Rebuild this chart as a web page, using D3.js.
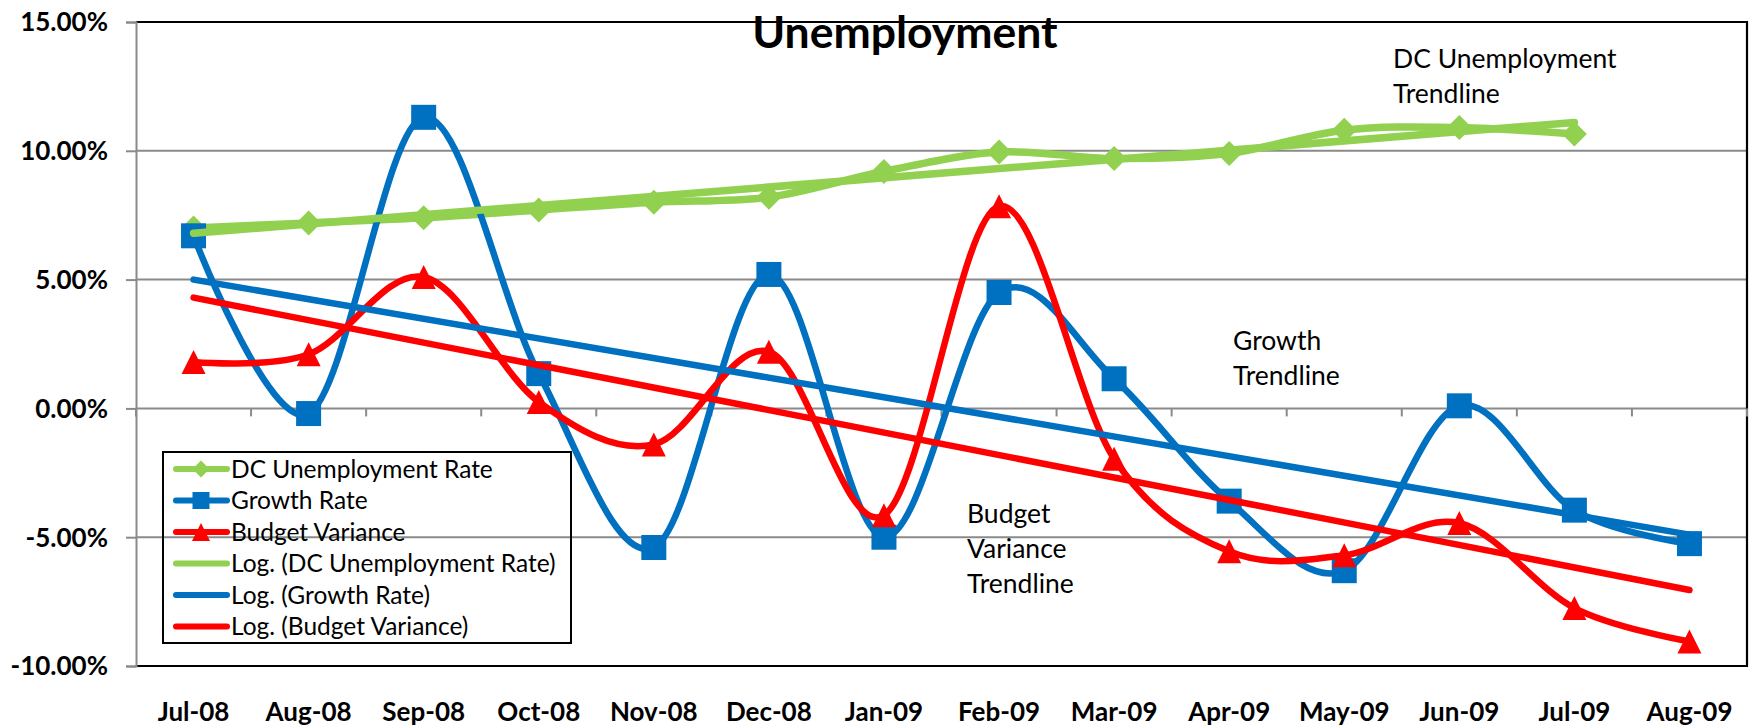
<!DOCTYPE html>
<html>
<head>
<meta charset="utf-8">
<script src="https://cdn.jsdelivr.net/npm/d3@7.9.0/dist/d3.min.js"></script>
<style>
  html, body { margin: 0; padding: 0; background: #fff; }
  svg { display: block; font-family: Lato, 'Open Sans', sans-serif; }
</style>
</head>
<body>
<svg id="chart"></svg>
<script>
// values (percent)
const months = ['Jul-08', 'Aug-08', 'Sep-08', 'Oct-08', 'Nov-08', 'Dec-08', 'Jan-09',
  'Feb-09', 'Mar-09', 'Apr-09', 'May-09', 'Jun-09', 'Jul-09', 'Aug-09'];
const dcRate = [7.0, 7.2, 7.4, 7.7, 8.0, 8.2, 9.2, 9.95, 9.7, 9.9, 10.8, 10.9, 10.65, null];
const growthRate = [6.7, -0.2, 11.3, 1.35, -5.4, 5.2, -5.0, 4.5, 1.15, -3.6, -6.3, 0.1, -3.95, -5.25];
const budgetVariance = [1.8, 2.1, 5.1, 0.25, -1.4, 2.2, -4.15, 7.85, -1.95, -5.55, -5.7, -4.45, -7.75, -9.05];

// log trendlines, endpoints as drawn
const dcTrend = [['Jul-08', 6.8], ['Jul-09', 11.1]];
const growthTrend = [['Jul-08', 5.0], ['Aug-09', -4.9]];
const budgetTrend = [['Jul-08', 4.3], ['Aug-09', -7.05]];

const yTicks = [-10, -5, 0, 5, 10, 15];
const annotations = [
  { lines: ['DC Unemployment', 'Trendline'], x: 1393, y: 68 },
  { lines: ['Growth', 'Trendline'], x: 1233, y: 350 },
  { lines: ['Budget', 'Variance', 'Trendline'], x: 967, y: 523 },
];

const width = 1750;
const height = 727;
const plot = { left: 136, right: 1747, top: 22, bottom: 666 };

const colors = { dc: '#92D050', growth: '#0070C0', budget: '#FF0000' };

const svg = d3.select('#chart').attr('width', width).attr('height', height);

const x = d3.scaleBand().domain(months).range([plot.left, plot.right]).padding(0);
const cx = (m) => x(m) + x.bandwidth() / 2;
const y = d3.scaleLinear().domain([-10, 15]).range([plot.bottom, plot.top]);

// gridlines
svg.append('g')
  .selectAll('line')
  .data([-5, 0, 5, 10])
  .join('line')
  .attr('x1', plot.left).attr('x2', plot.right)
  .attr('y1', (d) => y(d)).attr('y2', (d) => y(d))
  .attr('stroke', '#8a8a8a').attr('stroke-width', 2);

// plot border (top, right, bottom black)
svg.append('path')
  .attr('d', `M${plot.left},${y(15)}H${plot.right}V${y(-10)}H${plot.left}`)
  .attr('fill', 'none').attr('stroke', '#000').attr('stroke-width', 2.2);

// y axis
const yAxis = d3.axisLeft(y).tickValues(yTicks).tickSize(10).tickPadding(18)
  .tickFormat((d) => d.toFixed(2) + '%');
const yg = svg.append('g').attr('transform', `translate(${plot.left},0)`).call(yAxis);
yg.select('.domain').attr('stroke', '#8a8a8a').attr('stroke-width', 2);
yg.selectAll('.tick line').attr('stroke', '#8a8a8a').attr('stroke-width', 2);
yg.selectAll('.tick text')
  .attr('font-family', 'Lato, sans-serif').attr('font-size', 26).attr('font-weight', 'bold')
  .attr('fill', '#000').attr('dy', '0.34em');

// category ticks along the zero line
svg.append('g')
  .selectAll('line')
  .data([...months.map((m) => x(m)), plot.right])
  .join('line')
  .attr('x1', (d) => d).attr('x2', (d) => d)
  .attr('y1', y(0)).attr('y2', y(0) + 8)
  .attr('stroke', '#8a8a8a').attr('stroke-width', 2);

// x labels at the bottom
const xg = svg.append('g').attr('transform', `translate(0,${plot.bottom})`)
  .call(d3.axisBottom(x).tickSize(0).tickPadding(37));
xg.select('.domain').remove();
xg.selectAll('.tick text')
  .attr('font-family', 'Lato, sans-serif').attr('font-size', 26).attr('font-weight', 'bold')
  .attr('fill', '#000');

// markers
const markerPath = {
  diamond: (s) => `M0,${-s / 2}L${s / 2},0L0,${s / 2}L${-s / 2},0Z`,
  square: (s) => `M${-s / 2},${-s / 2}h${s}v${s}h${-s}Z`,
  triangle: (s) => `M0,${-s / 2}L${s / 2},${s / 2}L${-s / 2},${s / 2}Z`,
};

const line = d3.line()
  .defined((d) => d[1] != null)
  .x((d) => cx(d[0]))
  .y((d) => y(d[1]))
  .curve(d3.curveCatmullRom.alpha(0));

const series = [
  { name: 'DC Unemployment Rate', values: dcRate, color: colors.dc, marker: 'diamond', size: 25, width: 7.5 },
  { name: 'Growth Rate', values: growthRate, color: colors.growth, marker: 'square', size: 25, width: 6.5 },
  { name: 'Budget Variance', values: budgetVariance, color: colors.budget, marker: 'triangle', size: 24, width: 6.5 },
];

series.forEach((s) => {
  const pts = months.map((m, i) => [m, s.values[i]]).filter((d) => d[1] != null);
  const g = svg.append('g');
  g.append('path')
    .attr('d', line(pts))
    .attr('fill', 'none').attr('stroke', s.color).attr('stroke-width', s.width)
    .attr('stroke-linecap', 'round').attr('stroke-linejoin', 'round');
  g.selectAll('path.mk')
    .data(pts)
    .join('path')
    .attr('class', 'mk')
    .attr('d', markerPath[s.marker](s.size))
    .attr('transform', (d) => `translate(${cx(d[0])},${y(d[1])})`)
    .attr('fill', s.color);
});

// trendlines
const trends = [
  { name: 'Log. (DC Unemployment Rate)', values: dcTrend, color: colors.dc, width: 7.5 },
  { name: 'Log. (Growth Rate)', values: growthTrend, color: colors.growth, width: 6.5 },
  { name: 'Log. (Budget Variance)', values: budgetTrend, color: colors.budget, width: 6.5 },
];
trends.forEach((t) => {
  svg.append('path')
    .attr('d', d3.line().x((d) => cx(d[0])).y((d) => y(d[1]))(t.values))
    .attr('fill', 'none').attr('stroke', t.color).attr('stroke-width', t.width)
    .attr('stroke-linecap', 'round');
});

// title
svg.append('text')
  .attr('x', 905).attr('y', 48)
  .attr('text-anchor', 'middle')
  .attr('font-size', 44.5).attr('font-weight', 'bold')
  .text('Unemployment');

// annotations
annotations.forEach((a) => {
  const t = svg.append('text').attr('font-size', 26.5).attr('fill', '#000');
  a.lines.forEach((ln, i) => {
    t.append('tspan').attr('x', a.x).attr('y', a.y + i * 35).text(ln);
  });
});

// legend
const legend = svg.append('g');
legend.append('rect')
  .attr('x', 163).attr('y', 452).attr('width', 408).attr('height', 191)
  .attr('fill', 'none').attr('stroke', '#000').attr('stroke-width', 2);

const legendItems = [...series.map((s) => ({ ...s, legendSize: s.marker === 'triangle' ? 18 : 17 })), ...trends];
legendItems.forEach((it, i) => {
  const cy = 469 + i * 31.5;
  const row = legend.append('g').attr('transform', `translate(0,${cy})`);
  row.append('line')
    .attr('x1', 176).attr('x2', 227).attr('y1', 0).attr('y2', 0)
    .attr('stroke', it.color).attr('stroke-width', 6).attr('stroke-linecap', 'round');
  if (it.marker) {
    row.append('path')
      .attr('d', markerPath[it.marker](it.legendSize))
      .attr('transform', 'translate(201,0)')
      .attr('fill', it.color);
  }
  row.append('text')
    .attr('x', 231).attr('y', 8.5)
    .attr('font-size', 24.5).attr('fill', '#000')
    .text(it.name);
});
</script>
</body>
</html>
